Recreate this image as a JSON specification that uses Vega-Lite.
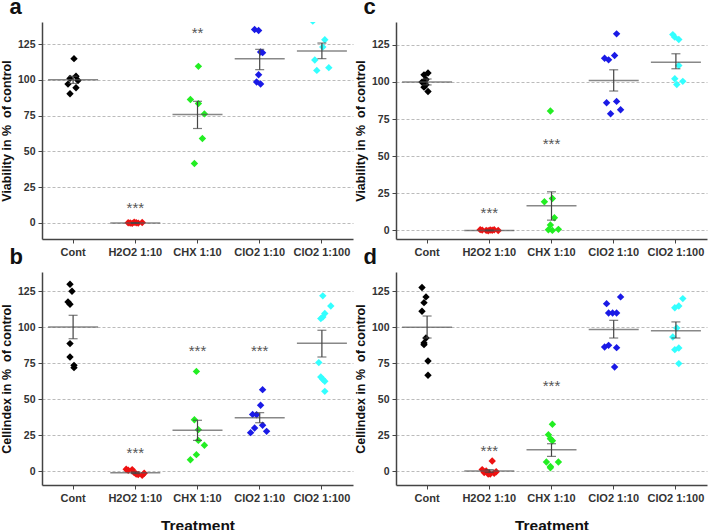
{
  "$schema": "https://vega.github.io/schema/vega-lite/v6.json",
  "padding": {"left": 0, "top": -4, "right": 1, "bottom": 0},
  "background": "white",
  "bounds": "flush",
  "columns": 2,
  "spacing": {"row": 33, "column": 43},
  "config": {
    "font": "Liberation Sans",
    "view": {"stroke": null},
    "axis": {
      "domainColor": "#444", "domainWidth": 1.5, "tickColor": "#444", "tickSize": 4,
      "labelColor": "#333", "labelFont": "Liberation Sans", "labelFontWeight": "bold", "labelFontSize": 11,
      "titleFont": "Liberation Sans", "titleFontWeight": "bold", "titleColor": "#111"
    },
    "axisY": {"grid": true, "gridColor": "#bbb", "gridDash": [3, 2], "gridWidth": 1, "titleFontSize": 12.5, "titlePadding": 4, "labelPadding": 3, "labelFontSize": 10.5},
    "axisX": {"grid": false, "labelAngle": 0, "labelPadding": 3},
    "title": {"anchor": "start", "frame": "bounds", "fontSize": 22, "fontWeight": "bold", "font": "Liberation Sans", "color": "#111", "offset": 3, "dx": 9}
  },
  "datasets": {
    "pts": [
      {"panel": "a", "group": "Cont", "rep": 7, "value": 114.8},
      {"panel": "a", "group": "Cont", "rep": 8, "value": 102.5},
      {"panel": "a", "group": "Cont", "rep": 5, "value": 101},
      {"panel": "a", "group": "Cont", "rep": 9, "value": 99.5},
      {"panel": "a", "group": "Cont", "rep": 4, "value": 97},
      {"panel": "a", "group": "Cont", "rep": 8, "value": 94.5},
      {"panel": "a", "group": "Cont", "rep": 5, "value": 90.3},
      {"panel": "a", "group": "H2O2 1:10", "rep": 3, "value": 0.2},
      {"panel": "a", "group": "H2O2 1:10", "rep": 4, "value": 0},
      {"panel": "a", "group": "H2O2 1:10", "rep": 5, "value": -0.3},
      {"panel": "a", "group": "H2O2 1:10", "rep": 6, "value": 0.5},
      {"panel": "a", "group": "H2O2 1:10", "rep": 7, "value": 0.1},
      {"panel": "a", "group": "H2O2 1:10", "rep": 8, "value": -0.1},
      {"panel": "a", "group": "H2O2 1:10", "rep": 10, "value": 0.3},
      {"panel": "a", "group": "CHX 1:10", "rep": 7, "value": 109.4},
      {"panel": "a", "group": "CHX 1:10", "rep": 3, "value": 86.2},
      {"panel": "a", "group": "CHX 1:10", "rep": 7, "value": 83.4},
      {"panel": "a", "group": "CHX 1:10", "rep": 10, "value": 76.2},
      {"panel": "a", "group": "CHX 1:10", "rep": 9, "value": 59},
      {"panel": "a", "group": "CHX 1:10", "rep": 5, "value": 41.6},
      {"panel": "a", "group": "ClO2 1:10", "rep": 4, "value": 135.2},
      {"panel": "a", "group": "ClO2 1:10", "rep": 6, "value": 134.5},
      {"panel": "a", "group": "ClO2 1:10", "rep": 7, "value": 119.4},
      {"panel": "a", "group": "ClO2 1:10", "rep": 8, "value": 119},
      {"panel": "a", "group": "ClO2 1:10", "rep": 6, "value": 103.6},
      {"panel": "a", "group": "ClO2 1:10", "rep": 5, "value": 98.5},
      {"panel": "a", "group": "ClO2 1:10", "rep": 7, "value": 97.1},
      {"panel": "a", "group": "ClO2 1:100", "rep": 2, "value": 141},
      {"panel": "a", "group": "ClO2 1:100", "rep": 8, "value": 128},
      {"panel": "a", "group": "ClO2 1:100", "rep": 7, "value": 122.9},
      {"panel": "a", "group": "ClO2 1:100", "rep": 3, "value": 113.8},
      {"panel": "a", "group": "ClO2 1:100", "rep": 10, "value": 108.5},
      {"panel": "a", "group": "ClO2 1:100", "rep": 4, "value": 106.6},

      {"panel": "c", "group": "Cont", "rep": 7, "value": 106},
      {"panel": "c", "group": "Cont", "rep": 5, "value": 104.8},
      {"panel": "c", "group": "Cont", "rep": 6, "value": 101.7},
      {"panel": "c", "group": "Cont", "rep": 4, "value": 99.9},
      {"panel": "c", "group": "Cont", "rep": 6, "value": 98.1},
      {"panel": "c", "group": "Cont", "rep": 5, "value": 96.5},
      {"panel": "c", "group": "Cont", "rep": 7, "value": 93.6},
      {"panel": "c", "group": "H2O2 1:10", "rep": 2, "value": 0.5},
      {"panel": "c", "group": "H2O2 1:10", "rep": 3, "value": 0.2},
      {"panel": "c", "group": "H2O2 1:10", "rep": 5, "value": 0},
      {"panel": "c", "group": "H2O2 1:10", "rep": 6, "value": -0.2},
      {"panel": "c", "group": "H2O2 1:10", "rep": 7, "value": 0.3},
      {"panel": "c", "group": "H2O2 1:10", "rep": 8, "value": 0.1},
      {"panel": "c", "group": "H2O2 1:10", "rep": 9, "value": 0.4},
      {"panel": "c", "group": "H2O2 1:10", "rep": 11, "value": -0.1},
      {"panel": "c", "group": "CHX 1:10", "rep": 6, "value": 80.4},
      {"panel": "c", "group": "CHX 1:10", "rep": 7, "value": 21.5},
      {"panel": "c", "group": "CHX 1:10", "rep": 3, "value": 19.3},
      {"panel": "c", "group": "CHX 1:10", "rep": 8, "value": 8.5},
      {"panel": "c", "group": "CHX 1:10", "rep": 6, "value": 3.6},
      {"panel": "c", "group": "CHX 1:10", "rep": 5, "value": 0.4},
      {"panel": "c", "group": "CHX 1:10", "rep": 10, "value": 0.7},
      {"panel": "c", "group": "CHX 1:10", "rep": 7, "value": 0},
      {"panel": "c", "group": "ClO2 1:10", "rep": 8, "value": 132.4},
      {"panel": "c", "group": "ClO2 1:10", "rep": 7, "value": 117.8},
      {"panel": "c", "group": "ClO2 1:10", "rep": 2, "value": 116},
      {"panel": "c", "group": "ClO2 1:10", "rep": 4, "value": 114.9},
      {"panel": "c", "group": "ClO2 1:10", "rep": 8, "value": 86.9},
      {"panel": "c", "group": "ClO2 1:10", "rep": 3, "value": 86},
      {"panel": "c", "group": "ClO2 1:10", "rep": 10, "value": 81.3},
      {"panel": "c", "group": "ClO2 1:10", "rep": 5, "value": 78.6},
      {"panel": "c", "group": "ClO2 1:100", "rep": 5, "value": 131.9},
      {"panel": "c", "group": "ClO2 1:100", "rep": 6, "value": 130.2},
      {"panel": "c", "group": "ClO2 1:100", "rep": 8, "value": 128.6},
      {"panel": "c", "group": "ClO2 1:100", "rep": 8, "value": 111.1},
      {"panel": "c", "group": "ClO2 1:100", "rep": 6, "value": 102.2},
      {"panel": "c", "group": "ClO2 1:100", "rep": 10, "value": 100.4},
      {"panel": "c", "group": "ClO2 1:100", "rep": 7, "value": 98.3},

      {"panel": "b", "group": "Cont", "rep": 5, "value": 129.9},
      {"panel": "b", "group": "Cont", "rep": 6, "value": 125},
      {"panel": "b", "group": "Cont", "rep": 4, "value": 117.6},
      {"panel": "b", "group": "Cont", "rep": 5, "value": 116},
      {"panel": "b", "group": "Cont", "rep": 5, "value": 88.6},
      {"panel": "b", "group": "Cont", "rep": 5, "value": 79.3},
      {"panel": "b", "group": "Cont", "rep": 7, "value": 73.5},
      {"panel": "b", "group": "Cont", "rep": 7, "value": 71.9},
      {"panel": "b", "group": "H2O2 1:10", "rep": 2, "value": 1.2},
      {"panel": "b", "group": "H2O2 1:10", "rep": 3, "value": 0.5},
      {"panel": "b", "group": "H2O2 1:10", "rep": 5, "value": 1},
      {"panel": "b", "group": "H2O2 1:10", "rep": 6, "value": -1},
      {"panel": "b", "group": "H2O2 1:10", "rep": 7, "value": -2},
      {"panel": "b", "group": "H2O2 1:10", "rep": 8, "value": -2.5},
      {"panel": "b", "group": "H2O2 1:10", "rep": 10, "value": -3},
      {"panel": "b", "group": "H2O2 1:10", "rep": 11, "value": -1.5},
      {"panel": "b", "group": "CHX 1:10", "rep": 6, "value": 69.3},
      {"panel": "b", "group": "CHX 1:10", "rep": 5, "value": 35.7},
      {"panel": "b", "group": "CHX 1:10", "rep": 7, "value": 28.8},
      {"panel": "b", "group": "CHX 1:10", "rep": 7, "value": 21.3},
      {"panel": "b", "group": "CHX 1:10", "rep": 10, "value": 17.9},
      {"panel": "b", "group": "CHX 1:10", "rep": 6, "value": 11.4},
      {"panel": "b", "group": "CHX 1:10", "rep": 3, "value": 7.9},
      {"panel": "b", "group": "ClO2 1:10", "rep": 8, "value": 56.6},
      {"panel": "b", "group": "ClO2 1:10", "rep": 7, "value": 45.7},
      {"panel": "b", "group": "ClO2 1:10", "rep": 3, "value": 39.4},
      {"panel": "b", "group": "ClO2 1:10", "rep": 5, "value": 39.2},
      {"panel": "b", "group": "ClO2 1:10", "rep": 8, "value": 31.8},
      {"panel": "b", "group": "ClO2 1:10", "rep": 4, "value": 29.9},
      {"panel": "b", "group": "ClO2 1:10", "rep": 10, "value": 27.6},
      {"panel": "b", "group": "ClO2 1:10", "rep": 2, "value": 26.7},
      {"panel": "b", "group": "ClO2 1:100", "rep": 7, "value": 121.8},
      {"panel": "b", "group": "ClO2 1:100", "rep": 11, "value": 114.8},
      {"panel": "b", "group": "ClO2 1:100", "rep": 8, "value": 109.5},
      {"panel": "b", "group": "ClO2 1:100", "rep": 7, "value": 107.1},
      {"panel": "b", "group": "ClO2 1:100", "rep": 6, "value": 106},
      {"panel": "b", "group": "ClO2 1:100", "rep": 5, "value": 75.4},
      {"panel": "b", "group": "ClO2 1:100", "rep": 6, "value": 65.4},
      {"panel": "b", "group": "ClO2 1:100", "rep": 7, "value": 63.8},
      {"panel": "b", "group": "ClO2 1:100", "rep": 8, "value": 62.4},
      {"panel": "b", "group": "ClO2 1:100", "rep": 8, "value": 55.4},

      {"panel": "d", "group": "Cont", "rep": 4, "value": 127.6},
      {"panel": "d", "group": "Cont", "rep": 6, "value": 121.1},
      {"panel": "d", "group": "Cont", "rep": 5, "value": 117.1},
      {"panel": "d", "group": "Cont", "rep": 4, "value": 111.1},
      {"panel": "d", "group": "Cont", "rep": 6, "value": 92.5},
      {"panel": "d", "group": "Cont", "rep": 5, "value": 89.1},
      {"panel": "d", "group": "Cont", "rep": 5, "value": 87.9},
      {"panel": "d", "group": "Cont", "rep": 7, "value": 76.5},
      {"panel": "d", "group": "Cont", "rep": 7, "value": 66.6},
      {"panel": "d", "group": "H2O2 1:10", "rep": 8, "value": 7},
      {"panel": "d", "group": "H2O2 1:10", "rep": 3, "value": 1},
      {"panel": "d", "group": "H2O2 1:10", "rep": 4, "value": -1},
      {"panel": "d", "group": "H2O2 1:10", "rep": 6, "value": -2},
      {"panel": "d", "group": "H2O2 1:10", "rep": 9, "value": -1.5},
      {"panel": "d", "group": "H2O2 1:10", "rep": 10, "value": -0.5},
      {"panel": "d", "group": "H2O2 1:10", "rep": 5, "value": 0},
      {"panel": "d", "group": "H2O2 1:10", "rep": 7, "value": -2},
      {"panel": "d", "group": "CHX 1:10", "rep": 7, "value": 32.5},
      {"panel": "d", "group": "CHX 1:10", "rep": 5, "value": 25.3},
      {"panel": "d", "group": "CHX 1:10", "rep": 6, "value": 22.5},
      {"panel": "d", "group": "CHX 1:10", "rep": 7, "value": 21.1},
      {"panel": "d", "group": "CHX 1:10", "rep": 4, "value": 6.3},
      {"panel": "d", "group": "CHX 1:10", "rep": 10, "value": 6.3},
      {"panel": "d", "group": "CHX 1:10", "rep": 6, "value": 3.2},
      {"panel": "d", "group": "CHX 1:10", "rep": 6, "value": 2.3},
      {"panel": "d", "group": "ClO2 1:10", "rep": 10, "value": 121.1},
      {"panel": "d", "group": "ClO2 1:10", "rep": 3, "value": 116.4},
      {"panel": "d", "group": "ClO2 1:10", "rep": 4, "value": 109.9},
      {"panel": "d", "group": "ClO2 1:10", "rep": 6, "value": 109.9},
      {"panel": "d", "group": "ClO2 1:10", "rep": 8, "value": 109.9},
      {"panel": "d", "group": "ClO2 1:10", "rep": 4, "value": 87.4},
      {"panel": "d", "group": "ClO2 1:10", "rep": 2, "value": 86.3},
      {"panel": "d", "group": "ClO2 1:10", "rep": 8, "value": 85.8},
      {"panel": "d", "group": "ClO2 1:10", "rep": 7, "value": 72.4},
      {"panel": "d", "group": "ClO2 1:100", "rep": 10, "value": 119.9},
      {"panel": "d", "group": "ClO2 1:100", "rep": 8, "value": 114.8},
      {"panel": "d", "group": "ClO2 1:100", "rep": 6, "value": 113.6},
      {"panel": "d", "group": "ClO2 1:100", "rep": 7, "value": 99.5},
      {"panel": "d", "group": "ClO2 1:100", "rep": 5, "value": 93.2},
      {"panel": "d", "group": "ClO2 1:100", "rep": 8, "value": 85.6},
      {"panel": "d", "group": "ClO2 1:100", "rep": 6, "value": 84.4},
      {"panel": "d", "group": "ClO2 1:100", "rep": 8, "value": 74.7}
    ],
    "sum": [
      {"panel": "a", "group": "Cont", "mean": 100, "lo": 97.5, "hi": 102.5},
      {"panel": "a", "group": "H2O2 1:10", "mean": 0, "lo": -0.3, "hi": 0.3},
      {"panel": "a", "group": "CHX 1:10", "mean": 75.7, "lo": 66, "hi": 85},
      {"panel": "a", "group": "ClO2 1:10", "mean": 114.8, "lo": 107.1, "hi": 121.3},
      {"panel": "a", "group": "ClO2 1:100", "mean": 120.1, "lo": 114.8, "hi": 125.7},
      {"panel": "c", "group": "Cont", "mean": 99.9, "lo": 98, "hi": 102},
      {"panel": "c", "group": "H2O2 1:10", "mean": 0, "lo": -0.3, "hi": 0.3},
      {"panel": "c", "group": "CHX 1:10", "mean": 16.6, "lo": 6.9, "hi": 26},
      {"panel": "c", "group": "ClO2 1:10", "mean": 101, "lo": 93.9, "hi": 108.2},
      {"panel": "c", "group": "ClO2 1:100", "mean": 113.3, "lo": 108.9, "hi": 119},
      {"panel": "b", "group": "Cont", "mean": 100.2, "lo": 92, "hi": 108.3},
      {"panel": "b", "group": "H2O2 1:10", "mean": -1.2, "lo": -1.8, "hi": -0.6},
      {"panel": "b", "group": "CHX 1:10", "mean": 28.3, "lo": 21.3, "hi": 35.3},
      {"panel": "b", "group": "ClO2 1:10", "mean": 37.1, "lo": 33.6, "hi": 40.6},
      {"panel": "b", "group": "ClO2 1:100", "mean": 88.8, "lo": 79.3, "hi": 97.9},
      {"panel": "d", "group": "Cont", "mean": 100, "lo": 92.5, "hi": 107.8},
      {"panel": "d", "group": "H2O2 1:10", "mean": 0, "lo": -1, "hi": 1},
      {"panel": "d", "group": "CHX 1:10", "mean": 14.8, "lo": 10.2, "hi": 19},
      {"panel": "d", "group": "ClO2 1:10", "mean": 98.5, "lo": 92.5, "hi": 104.8},
      {"panel": "d", "group": "ClO2 1:100", "mean": 97.6, "lo": 92.5, "hi": 103.7}
    ],
    "sig": [
      {"panel": "a", "group": "H2O2 1:10", "y": 13, "label": "***"},
      {"panel": "a", "group": "CHX 1:10", "y": 135.5, "label": "**"},
      {"panel": "c", "group": "H2O2 1:10", "y": 14.4, "label": "***"},
      {"panel": "c", "group": "CHX 1:10", "y": 60.8, "label": "***"},
      {"panel": "b", "group": "H2O2 1:10", "y": 14.8, "label": "***"},
      {"panel": "b", "group": "CHX 1:10", "y": 85.6, "label": "***"},
      {"panel": "b", "group": "ClO2 1:10", "y": 85.6, "label": "***"},
      {"panel": "d", "group": "H2O2 1:10", "y": 16.2, "label": "***"},
      {"panel": "d", "group": "CHX 1:10", "y": 61.4, "label": "***"}
    ]
  },
  "concat": [
    {
      "width": 311, "height": 217,
      "title": {"text": "a"},
      "encoding": {
        "x": {"field": "group", "type": "nominal", "scale": {"domain": ["Cont", "H2O2 1:10", "CHX 1:10", "ClO2 1:10", "ClO2 1:100"], "paddingInner": 0, "paddingOuter": 0}, "axis": {"title": null}}
      },
      "layer": [
        {"data": {"name": "pts"}, "transform": [{"filter": "datum.panel == 'a'"}],
         "mark": {"type": "point", "shape": "diamond", "filled": true, "size": 55, "opacity": 1, "clip": true},
         "encoding": {
           "xOffset": {"field": "rep", "type": "ordinal", "scale": {"domain": [1, 2, 3, 4, 5, 6, 7, 8, 9, 10, 11, 12], "range": [20, 42], "paddingInner": 0, "paddingOuter": 0}},
           "y": {"field": "value", "type": "quantitative", "scale": {"domain": [-11.2, 140.4], "nice": false, "zero": false}, "axis": {"title": "Viability in % \u00a0of control", "values": [0, 25, 50, 75, 100, 125]}},
           "color": {"field": "group", "type": "nominal", "scale": {"domain": ["Cont", "H2O2 1:10", "CHX 1:10", "ClO2 1:10", "ClO2 1:100"], "range": ["#000000", "#ee1111", "#22ee22", "#1a1ae6", "#33ffff"]}, "legend": null}
         }},
        {"data": {"name": "sum"}, "transform": [{"filter": "datum.panel == 'a'"}],
         "mark": {"type": "tick", "size": 50, "thickness": 1.5, "color": "#555"},
         "encoding": {"y": {"field": "mean", "type": "quantitative"}}},
        {"data": {"name": "sum"}, "transform": [{"filter": "datum.panel == 'a'"}],
         "mark": {"type": "rule", "strokeWidth": 1.2, "color": "#444"},
         "encoding": {"y": {"field": "lo", "type": "quantitative"}, "y2": {"field": "hi"}}},
        {"data": {"name": "sum"}, "transform": [{"filter": "datum.panel == 'a'"}],
         "mark": {"type": "tick", "size": 9, "thickness": 1.2, "color": "#444"},
         "encoding": {"y": {"field": "lo", "type": "quantitative"}}},
        {"data": {"name": "sum"}, "transform": [{"filter": "datum.panel == 'a'"}],
         "mark": {"type": "tick", "size": 9, "thickness": 1.2, "color": "#444"},
         "encoding": {"y": {"field": "hi", "type": "quantitative"}}},
        {"data": {"name": "sig"}, "transform": [{"filter": "datum.panel == 'a'"}],
         "mark": {"type": "text", "fontSize": 15, "color": "#555", "baseline": "alphabetic", "dy": 8.5, "font": "Liberation Sans"},
         "encoding": {"y": {"field": "y", "type": "quantitative"}, "text": {"field": "label"}}}
      ]
    },
    {
      "width": 311, "height": 217,
      "title": {"text": "c"},
      "encoding": {
        "x": {"field": "group", "type": "nominal", "scale": {"domain": ["Cont", "H2O2 1:10", "CHX 1:10", "ClO2 1:10", "ClO2 1:100"], "paddingInner": 0, "paddingOuter": 0}, "axis": {"title": null}}
      },
      "layer": [
        {"data": {"name": "pts"}, "transform": [{"filter": "datum.panel == 'c'"}],
         "mark": {"type": "point", "shape": "diamond", "filled": true, "size": 55, "opacity": 1, "clip": true},
         "encoding": {
           "xOffset": {"field": "rep", "type": "ordinal", "scale": {"domain": [1, 2, 3, 4, 5, 6, 7, 8, 9, 10, 11, 12], "range": [20, 42], "paddingInner": 0, "paddingOuter": 0}},
           "y": {"field": "value", "type": "quantitative", "scale": {"domain": [-5.8, 140.4], "nice": false, "zero": false}, "axis": {"title": "Viability in % \u00a0of control", "values": [0, 25, 50, 75, 100, 125]}},
           "color": {"field": "group", "type": "nominal", "scale": {"domain": ["Cont", "H2O2 1:10", "CHX 1:10", "ClO2 1:10", "ClO2 1:100"], "range": ["#000000", "#ee1111", "#22ee22", "#1a1ae6", "#33ffff"]}, "legend": null}
         }},
        {"data": {"name": "sum"}, "transform": [{"filter": "datum.panel == 'c'"}],
         "mark": {"type": "tick", "size": 50, "thickness": 1.5, "color": "#555"},
         "encoding": {"y": {"field": "mean", "type": "quantitative"}}},
        {"data": {"name": "sum"}, "transform": [{"filter": "datum.panel == 'c'"}],
         "mark": {"type": "rule", "strokeWidth": 1.2, "color": "#444"},
         "encoding": {"y": {"field": "lo", "type": "quantitative"}, "y2": {"field": "hi"}}},
        {"data": {"name": "sum"}, "transform": [{"filter": "datum.panel == 'c'"}],
         "mark": {"type": "tick", "size": 9, "thickness": 1.2, "color": "#444"},
         "encoding": {"y": {"field": "lo", "type": "quantitative"}}},
        {"data": {"name": "sum"}, "transform": [{"filter": "datum.panel == 'c'"}],
         "mark": {"type": "tick", "size": 9, "thickness": 1.2, "color": "#444"},
         "encoding": {"y": {"field": "hi", "type": "quantitative"}}},
        {"data": {"name": "sig"}, "transform": [{"filter": "datum.panel == 'c'"}],
         "mark": {"type": "text", "fontSize": 15, "color": "#555", "baseline": "alphabetic", "dy": 8.5, "font": "Liberation Sans"},
         "encoding": {"y": {"field": "y", "type": "quantitative"}, "text": {"field": "label"}}}
      ]
    },
    {
      "width": 311, "height": 213,
      "title": {"text": "b"},
      "encoding": {
        "x": {"field": "group", "type": "nominal", "scale": {"domain": ["Cont", "H2O2 1:10", "CHX 1:10", "ClO2 1:10", "ClO2 1:100"], "paddingInner": 0, "paddingOuter": 0}, "axis": {"title": "Treatment", "titleFontSize": 15.5, "titlePadding": 15}}
      },
      "layer": [
        {"data": {"name": "pts"}, "transform": [{"filter": "datum.panel == 'b'"}],
         "mark": {"type": "point", "shape": "diamond", "filled": true, "size": 55, "opacity": 1, "clip": true},
         "encoding": {
           "xOffset": {"field": "rep", "type": "ordinal", "scale": {"domain": [1, 2, 3, 4, 5, 6, 7, 8, 9, 10, 11, 12], "range": [20, 42], "paddingInner": 0, "paddingOuter": 0}},
           "y": {"field": "value", "type": "quantitative", "scale": {"domain": [-9.7, 138.4], "nice": false, "zero": false}, "axis": {"title": "Cellindex in % \u00a0of control", "values": [0, 25, 50, 75, 100, 125]}},
           "color": {"field": "group", "type": "nominal", "scale": {"domain": ["Cont", "H2O2 1:10", "CHX 1:10", "ClO2 1:10", "ClO2 1:100"], "range": ["#000000", "#ee1111", "#22ee22", "#1a1ae6", "#33ffff"]}, "legend": null}
         }},
        {"data": {"name": "sum"}, "transform": [{"filter": "datum.panel == 'b'"}],
         "mark": {"type": "tick", "size": 50, "thickness": 1.5, "color": "#555"},
         "encoding": {"y": {"field": "mean", "type": "quantitative"}}},
        {"data": {"name": "sum"}, "transform": [{"filter": "datum.panel == 'b'"}],
         "mark": {"type": "rule", "strokeWidth": 1.2, "color": "#444"},
         "encoding": {"y": {"field": "lo", "type": "quantitative"}, "y2": {"field": "hi"}}},
        {"data": {"name": "sum"}, "transform": [{"filter": "datum.panel == 'b'"}],
         "mark": {"type": "tick", "size": 9, "thickness": 1.2, "color": "#444"},
         "encoding": {"y": {"field": "lo", "type": "quantitative"}}},
        {"data": {"name": "sum"}, "transform": [{"filter": "datum.panel == 'b'"}],
         "mark": {"type": "tick", "size": 9, "thickness": 1.2, "color": "#444"},
         "encoding": {"y": {"field": "hi", "type": "quantitative"}}},
        {"data": {"name": "sig"}, "transform": [{"filter": "datum.panel == 'b'"}],
         "mark": {"type": "text", "fontSize": 15, "color": "#555", "baseline": "alphabetic", "dy": 8.5, "font": "Liberation Sans"},
         "encoding": {"y": {"field": "y", "type": "quantitative"}, "text": {"field": "label"}}}
      ]
    },
    {
      "width": 311, "height": 213,
      "title": {"text": "d"},
      "encoding": {
        "x": {"field": "group", "type": "nominal", "scale": {"domain": ["Cont", "H2O2 1:10", "CHX 1:10", "ClO2 1:10", "ClO2 1:100"], "paddingInner": 0, "paddingOuter": 0}, "axis": {"title": "Treatment", "titleFontSize": 15.5, "titlePadding": 15}}
      },
      "layer": [
        {"data": {"name": "pts"}, "transform": [{"filter": "datum.panel == 'd'"}],
         "mark": {"type": "point", "shape": "diamond", "filled": true, "size": 55, "opacity": 1, "clip": true},
         "encoding": {
           "xOffset": {"field": "rep", "type": "ordinal", "scale": {"domain": [1, 2, 3, 4, 5, 6, 7, 8, 9, 10, 11, 12], "range": [20, 42], "paddingInner": 0, "paddingOuter": 0}},
           "y": {"field": "value", "type": "quantitative", "scale": {"domain": [-9.7, 138.4], "nice": false, "zero": false}, "axis": {"title": "Cellindex in % \u00a0of control", "values": [0, 25, 50, 75, 100, 125]}},
           "color": {"field": "group", "type": "nominal", "scale": {"domain": ["Cont", "H2O2 1:10", "CHX 1:10", "ClO2 1:10", "ClO2 1:100"], "range": ["#000000", "#ee1111", "#22ee22", "#1a1ae6", "#33ffff"]}, "legend": null}
         }},
        {"data": {"name": "sum"}, "transform": [{"filter": "datum.panel == 'd'"}],
         "mark": {"type": "tick", "size": 50, "thickness": 1.5, "color": "#555"},
         "encoding": {"y": {"field": "mean", "type": "quantitative"}}},
        {"data": {"name": "sum"}, "transform": [{"filter": "datum.panel == 'd'"}],
         "mark": {"type": "rule", "strokeWidth": 1.2, "color": "#444"},
         "encoding": {"y": {"field": "lo", "type": "quantitative"}, "y2": {"field": "hi"}}},
        {"data": {"name": "sum"}, "transform": [{"filter": "datum.panel == 'd'"}],
         "mark": {"type": "tick", "size": 9, "thickness": 1.2, "color": "#444"},
         "encoding": {"y": {"field": "lo", "type": "quantitative"}}},
        {"data": {"name": "sum"}, "transform": [{"filter": "datum.panel == 'd'"}],
         "mark": {"type": "tick", "size": 9, "thickness": 1.2, "color": "#444"},
         "encoding": {"y": {"field": "hi", "type": "quantitative"}}},
        {"data": {"name": "sig"}, "transform": [{"filter": "datum.panel == 'd'"}],
         "mark": {"type": "text", "fontSize": 15, "color": "#555", "baseline": "alphabetic", "dy": 8.5, "font": "Liberation Sans"},
         "encoding": {"y": {"field": "y", "type": "quantitative"}, "text": {"field": "label"}}}
      ]
    }
  ]
}
